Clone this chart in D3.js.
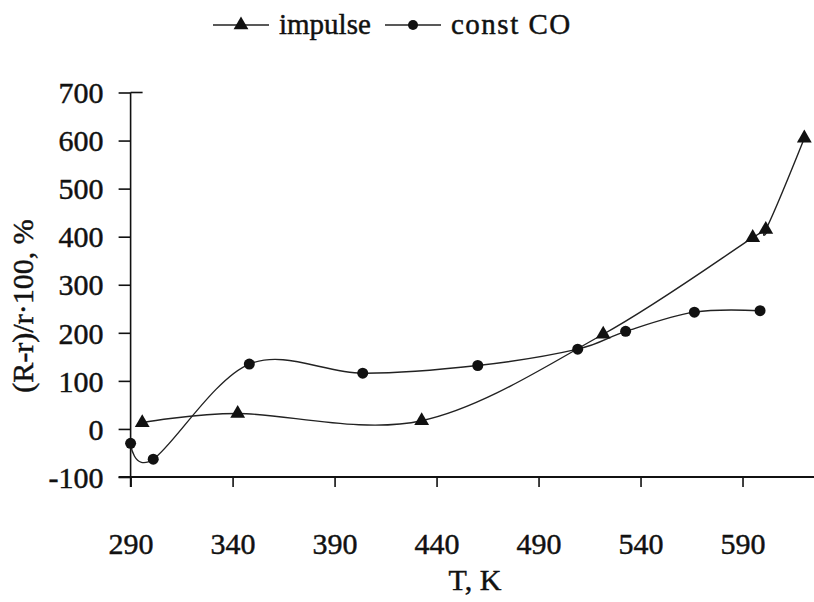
<!DOCTYPE html>
<html>
<head>
<meta charset="utf-8">
<script src="https://cdn.jsdelivr.net/npm/d3@7"></script>
<style>
  html, body { margin: 0; padding: 0; background: #fff; }
  svg { display: block; }
  text { font-family: "Liberation Serif", "Times New Roman", Times, serif; fill: #111;
         stroke: #111; stroke-width: 0.45px; }
</style>
</head>
<body>
<svg id="chart" width="814" height="602"></svg>
<script>
// Temperature (K) and relative change (R-r)/r·100 (%) for both regimes
const impulseT = [295.7, 342.5, 432.7, 521.7, 595, 601.4, 620.3];
const impulseV = [13, 32, 17, 197, 398, 415, 605];
const constT = [290, 301.1, 348.2, 403.8, 460.2, 509.2, 532.7, 566.4, 598.6];
const constV = [-30, -63, 135, 116, 132, 166, 203, 243, 246];

const xTicks = [290, 340, 390, 440, 490, 540, 590];
const yTicks = [-100, 0, 100, 200, 300, 400, 500, 600, 700];
const seriesNames = ["impulse", "const CO"];

const svg = d3.select("#chart");
const x = d3.scaleLinear().domain([290, 640]).range([130.6, 844.5]);
const y = d3.scaleLinear().domain([-100, 700]).range([477, 92.5]);

const ink = "#111";
const lineInk = "#222";
const plain = d => String(d); // hyphen-minus, as in the printed axis

// Y axis: outward ticks, labels on the left
const yAxis = d3.axisLeft(y).tickValues(yTicks).tickSize(12).tickPadding(15).tickFormat(plain);
const gy = svg.append("g").attr("transform", `translate(${x(290)},0)`).call(yAxis);
gy.select(".domain").remove();
gy.append("line").attr("x1", 0).attr("x2", 0).attr("y1", y(700)).attr("y2", y(-100) + 10)
  .attr("stroke", ink).attr("stroke-width", 1.6);
gy.append("line").attr("x1", 0).attr("x2", 12).attr("y1", y(700)).attr("y2", y(700))
  .attr("stroke", ink).attr("stroke-width", 1.6);
gy.selectAll(".tick line").attr("stroke", ink).attr("stroke-width", 1.6);
gy.selectAll(".tick text").attr("font-size", 30).attr("fill", ink).attr("dy", "0.34em");

// X axis along the -100 line, running off the right edge
const xAxis = d3.axisBottom(x).tickValues(xTicks).tickSize(10).tickPadding(46).tickFormat(plain);
const gx = svg.append("g").attr("transform", `translate(0,${y(-100)})`).call(xAxis);
gx.select(".domain").remove();
gx.append("line").attr("x1", x(290) - 12).attr("x2", 814).attr("y1", 0).attr("y2", 0)
  .attr("stroke", ink).attr("stroke-width", 1.8);
gx.selectAll(".tick line").attr("stroke", ink).attr("stroke-width", 1.6);
gx.selectAll(".tick text").attr("font-size", 30).attr("fill", ink);

// Axis titles
svg.append("text").attr("x", 475).attr("y", 590).attr("text-anchor", "middle")
  .attr("font-size", 30).text("T, K");
svg.append("text").attr("transform", "translate(33,306) rotate(-90)")
  .attr("text-anchor", "middle").attr("font-size", 30).text("(R-r)/r·100, %");

// Smoothed series lines
const line = d3.line().x(d => x(d[0])).y(d => y(d[1])).curve(d3.curveCatmullRom.alpha(0));
const impulseData = impulseT.map((t, i) => [t, impulseV[i]]);
const constData = constT.map((t, i) => [t, constV[i]]);

svg.append("path").datum(constData).attr("d", line)
  .attr("fill", "none").attr("stroke", lineInk).attr("stroke-width", 1.4);
svg.append("path").datum(impulseData).attr("d", line)
  .attr("fill", "none").attr("stroke", lineInk).attr("stroke-width", 1.4);

const tri = d3.symbol().type(d3.symbolTriangle).size(95);

svg.append("g").selectAll("path").data(impulseData).join("path")
  .attr("transform", d => `translate(${x(d[0])},${y(d[1])})`)
  .attr("d", tri).attr("fill", ink);
svg.append("g").selectAll("circle").data(constData).join("circle")
  .attr("cx", d => x(d[0])).attr("cy", d => y(d[1])).attr("r", 5.5).attr("fill", ink);

// Legend
const legend = svg.append("g");
const lg1 = legend.append("g").attr("transform", "translate(213,25)");
lg1.append("line").attr("x1", 0).attr("x2", 56).attr("stroke", lineInk).attr("stroke-width", 1.6);
lg1.append("path").attr("d", tri).attr("transform", "translate(28,0)").attr("fill", ink);
lg1.append("text").attr("x", 66).attr("dy", "0.32em").attr("font-size", 29).text(seriesNames[0]);

const lg2 = legend.append("g").attr("transform", "translate(385,25)");
lg2.append("line").attr("x1", 0).attr("x2", 56).attr("stroke", lineInk).attr("stroke-width", 1.6);
lg2.append("circle").attr("cx", 28).attr("r", 5).attr("fill", ink);
lg2.append("text").attr("x", 66).attr("dy", "0.32em").attr("font-size", 29)
  .attr("letter-spacing", 1.5).text(seriesNames[1]);
</script>
</body>
</html>
